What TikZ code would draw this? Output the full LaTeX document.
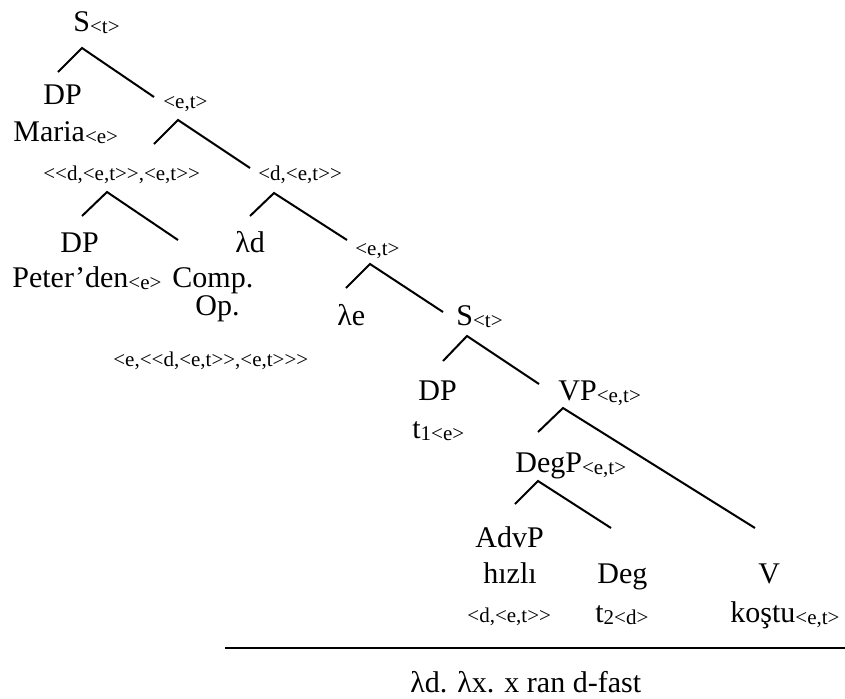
\documentclass[tikz,border=0pt]{standalone}
\usepackage{fontspec}
\setmainfont{Liberation Serif}
\newcommand\mainsz{\fontsize{15}{18}\selectfont}
\newcommand\smallsz{\fontsize{10.5}{12}\selectfont}
\newcommand\tsub[1]{\raisebox{-1pt}{\smallsz #1}}
% keep doubled angle brackets from turning into guillemets
\newcommand\dblopen{<\kern0pt<}
\newcommand\dblclose{>\kern0pt>}
\begin{document}
\begin{tikzpicture}[x=0.5pt,y=-0.5pt,
  lab/.style={anchor=base west,inner sep=0pt,font=\mainsz},
  typ/.style={anchor=base west,inner sep=0pt,font=\smallsz},
  branch/.style={line width=1pt},
  rule/.style={line width=1.2pt}]
\useasboundingbox (0,0) rectangle (845,698);

% labels of the tree
\node[lab] (S1)    at (73,31)   {S\tsub{<t>}};
\node[lab] (DP1)   at (43,104)  {DP};
\node[lab] (maria) at (13,141)  {Maria\tsub{<e>}};
\node[typ] (et1)   at (163,108) {<e,t>};
\node[typ] (big1)  at (43,180)  {\dblopen d,<e,t\dblclose,<e,t\dblclose};
\node[typ] (det1)  at (258,180) {<d,<e,t\dblclose};
\node[lab] (DP2)   at (60,252)  {DP};
\node[lab] (peter) at (12,287)  {Peter’den\tsub{<e>}};
\node[lab] (comp)  at (172,287) {Comp.};
\node[lab] (op)    at (195,315) {Op.};
\node[typ] (opty)  at (113,366) {<e,\dblopen d,<e,t\dblclose,<e,t\dblclose\kern0pt>};
\node[lab] (lamd)  at (235,252) {λd};
\node[typ] (et2)   at (355,255) {<e,t>};
\node[lab] (lame)  at (337,325) {λe};
\node[lab] (S2)    at (456,325) {S\tsub{<t>}};
\node[lab] (DP3)   at (418,400) {DP};
\node[lab] (tone)  at (412,438) {t\tsub{1<e>}};
\node[lab] (VP)    at (558,400) {VP\tsub{<e,t>}};
\node[lab] (DegP)  at (515,472) {DegP\tsub{<e,t>}};
\node[lab] (AdvP)  at (475,547) {AdvP};
\node[lab] (hizli) at (483,583) {hızlı};
\node[typ] (det2)  at (467,622) {<d,<e,t\dblclose};
\node[lab] (Deg)   at (597,583) {Deg};
\node[lab] (ttwo)  at (595,622) {t\tsub{2<d>}};
\node[lab] (V)     at (758,583) {V};
\node[lab] (kostu) at (730,622) {koştu\tsub{<e,t>}};
\node[lab] (den)   at (410,692) {λd. λx. x ran d-fast};

% branches
\draw[branch] ([shift={(15,-32)}]DP1.base west) -- ([shift={(9,17)}]S1.base west) -- ([shift={(-9,-11)}]et1.base west);
\draw[branch] ([shift={(111,-36)}]big1.base west) -- ([shift={(15,12)}]et1.base west) -- ([shift={(-8,-12)}]det1.base west);
\draw[branch] ([shift={(22,-36)}]DP2.base west) -- ([shift={(64,12)}]big1.base west) -- ([shift={(6,-47)}]comp.base west);
\draw[branch] ([shift={(15,-36)}]lamd.base west) -- ([shift={(16,13)}]det1.base west) -- ([shift={(-8,-15)}]et2.base west);
\draw[branch] ([shift={(9,-37)}]lame.base west) -- ([shift={(15,9)}]et2.base west) -- ([shift={(-13,-13)}]S2.base west);
\draw[branch] ([shift={(25,-39)}]DP3.base west) -- ([shift={(11,11)}]S2.base west) -- ([shift={(-19,-16)}]VP.base west);
\draw[branch] ([shift={(23,-40)}]DegP.base west) -- ([shift={(5,8)}]VP.base west) -- ([shift={(-3,-55)}]V.base west);
\draw[branch] ([shift={(40,-43)}]AdvP.base west) -- ([shift={(23,9)}]DegP.base west) -- ([shift={(14,-55)}]Deg.base west);

% rule above the result
\draw[rule] (225,648) -- (845,648);
\end{tikzpicture}
\end{document}
